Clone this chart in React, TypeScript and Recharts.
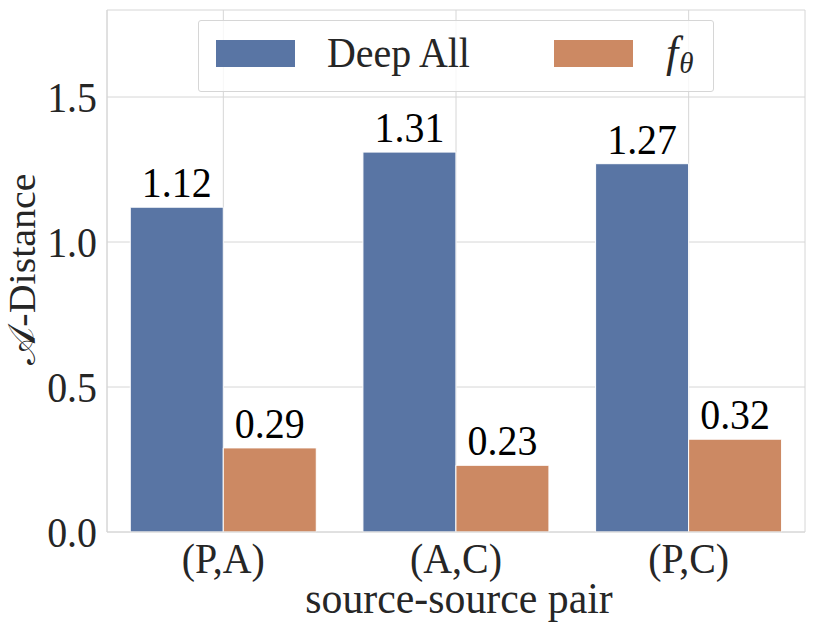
import { BarChart, Bar, XAxis, YAxis, CartesianGrid, LabelList, Legend, Label } from "recharts";

const pairs = ["(P,A)", "(A,C)", "(P,C)"];
const deepAll = [1.12, 1.31, 1.27];
const fTheta = [0.29, 0.23, 0.32];
const yTicks = [0, 0.5, 1.0, 1.5];

const data = pairs.map((pair, i) => ({ pair, deepAll: deepAll[i], fTheta: fTheta[i] }));

const FONT = "'Liberation Serif', 'Times New Roman', serif";
const TEXT = "#262626";
const GRID = "#d6d6d6";
const BLUE = "#5975a4";
const ORANGE = "#cc8963";
// the reference text is a little narrower than Times at the same height
const SX = 0.95;

const Txt = ({ x, y, size = 42, anchor = "middle", fill = TEXT, children }: any) => (
  <text
    transform={`translate(${x},${y}) scale(${SX},1)`}
    textAnchor={anchor}
    fontSize={size}
    fill={fill}
    fontFamily={FONT}
  >
    {children}
  </text>
);

const YTick = ({ x, y, payload }: any) => (
  <Txt x={x} y={y + 15} anchor="end">
    {Number(payload.value).toFixed(1)}
  </Txt>
);

const XTick = ({ x, y, payload }: any) => (
  <Txt x={x} y={y + 31}>
    {payload.value}
  </Txt>
);

const ValueLabel = ({ x, y, width, value }: any) => (
  <Txt x={x + width / 2} y={y - 10} fill="#000">
    {Number(value).toFixed(2)}
  </Txt>
);

const LegendBox = () => (
  <div
    style={{
      position: "relative",
      width: 516,
      height: 72,
      boxSizing: "border-box",
      border: `1px solid ${GRID}`,
      borderRadius: 3,
      background: "rgba(255,255,255,0.8)",
      fontFamily: FONT,
      fontSize: 42,
      lineHeight: "42px",
      color: TEXT,
    }}
  >
    <div style={{ position: "absolute", left: 17, top: 19, width: 79, height: 27, background: BLUE }} />
    <span
      style={{ position: "absolute", left: 128, top: 11, transform: `scaleX(${SX})`, transformOrigin: "left", whiteSpace: "nowrap" }}
    >
      Deep All
    </span>
    <div style={{ position: "absolute", left: 355, top: 19, width: 79, height: 27, background: ORANGE }} />
    <span style={{ position: "absolute", left: 467, top: 11, whiteSpace: "nowrap" }}>
      <i style={{ fontSize: 44 }}>f</i>
      <i style={{ fontSize: 29, position: "relative", top: 6, marginLeft: 1 }}>θ</i>
    </span>
  </div>
);

export default function App() {
  return (
    <div style={{ position: "absolute", left: 0, top: 0, background: "#fff" }}>
      <BarChart
        width={814}
        height={626}
        data={data}
        margin={{ top: 10, right: 9, left: 0, bottom: 0 }}
        barCategoryGap="10%"
        barGap={0}
      >
        <CartesianGrid stroke={GRID} strokeWidth={1} />
        <XAxis
          dataKey="pair"
          height={94}
          axisLine={{ stroke: GRID }}
          tickLine={false}
          tickSize={0}
          tickMargin={10}
          tick={<XTick />}
        >
          <Label
            content={({ viewBox }: any) => (
              <Txt x={viewBox.x + viewBox.width / 2 + 3} y={viewBox.y + 81} size={44}>
                source-source pair
              </Txt>
            )}
          />
        </XAxis>
        <XAxis xAxisId="top" orientation="top" dataKey="pair" height={0} axisLine={{ stroke: GRID }} tick={false} tickLine={false} />
        <YAxis
          domain={[0, 1.8]}
          ticks={yTicks}
          width={107}
          axisLine={{ stroke: GRID }}
          tickLine={false}
          tickSize={0}
          tickMargin={10}
          tick={<YTick />}
        >
          <Label
            content={({ viewBox }: any) => {
              const cx = 35;
              const cy = viewBox.y + viewBox.height / 2 - 2;
              return (
                <text
                  transform={`translate(${cx},${cy}) scale(${SX},1) rotate(-90)`}
                  textAnchor="middle"
                  fontSize={40}
                  fill={TEXT}
                  fontFamily={FONT}
                >
                  𝒜-Distance
                </text>
              );
            }}
          />
        </YAxis>
        <YAxis yAxisId="right" orientation="right" domain={[0, 1.8]} width={0} axisLine={{ stroke: GRID }} tick={false} tickLine={false} />
        <Legend
          layout="horizontal"
          verticalAlign="middle"
          align="center"
          content={<LegendBox />}
          wrapperStyle={{ left: 198, top: 20, width: 516 }}
        />
        <Bar dataKey="deepAll" name="Deep All" fill={BLUE} stroke="#fff" strokeWidth={1} isAnimationActive={false}>
          <LabelList dataKey="deepAll" content={<ValueLabel />} />
        </Bar>
        <Bar dataKey="fTheta" name="fθ" fill={ORANGE} stroke="#fff" strokeWidth={1} isAnimationActive={false}>
          <LabelList dataKey="fTheta" content={<ValueLabel />} />
        </Bar>
      </BarChart>
    </div>
  );
}
